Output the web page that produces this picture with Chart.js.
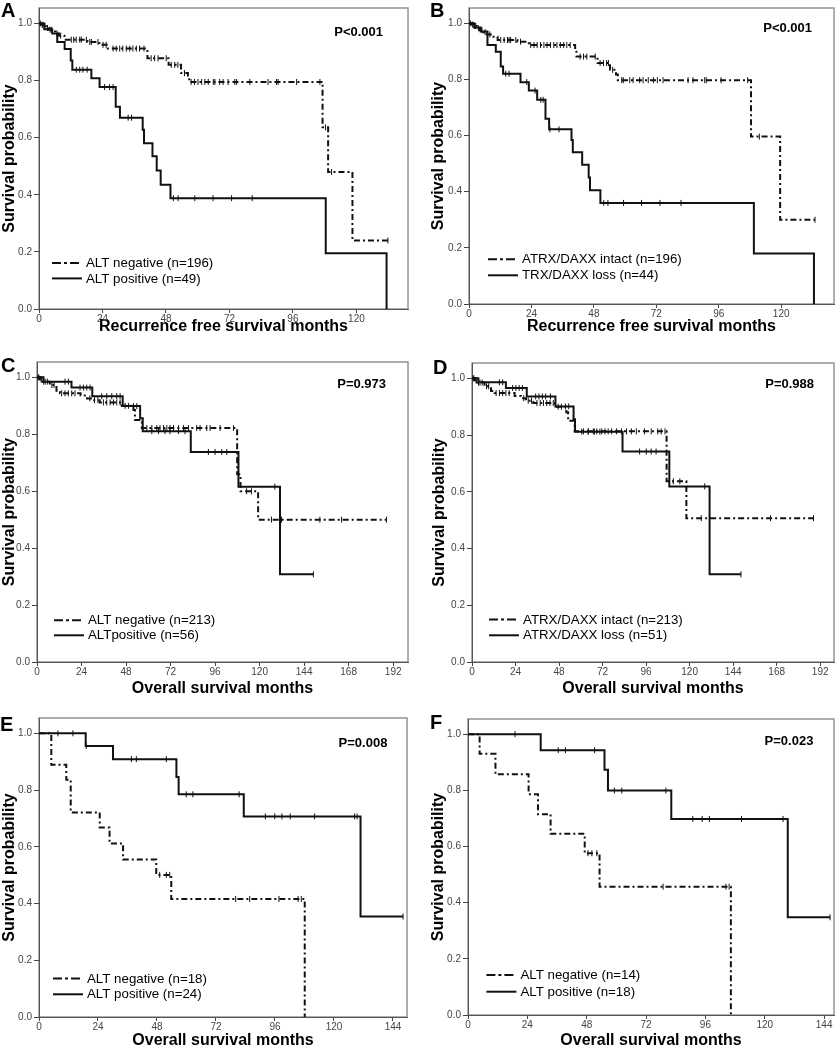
<!DOCTYPE html>
<html>
<head>
<meta charset="utf-8">
<title>Kaplan-Meier curves</title>
<script src="https://cdn.jsdelivr.net/npm/chart.js@4.4.0/dist/chart.umd.min.js"></script>
<style>
  body { margin: 0; background: #fff; }
  #wrap { position: relative; width: 839px; height: 1050px; overflow: hidden; }
  canvas { position: absolute; }
  .tag { position: absolute; z-index: 2; font: bold 20px Arial, "Liberation Sans", sans-serif; line-height: 1; color: #000; }
</style>
</head>
<body>
<div id="wrap">
  <canvas id="chartA" width="420" height="336" style="left:0;top:0"></canvas>
  <canvas id="chartB" width="419" height="336" style="left:420px;top:0"></canvas>
  <canvas id="chartC" width="420" height="362" style="left:0;top:336px"></canvas>
  <canvas id="chartD" width="419" height="362" style="left:420px;top:336px"></canvas>
  <canvas id="chartE" width="420" height="352" style="left:0;top:698px"></canvas>
  <canvas id="chartF" width="419" height="352" style="left:420px;top:698px"></canvas>
  <div class="tag" style="left:1px;top:0">A</div>
  <div class="tag" style="left:430px;top:0">B</div>
  <div class="tag" style="left:1px;top:355px">C</div>
  <div class="tag" style="left:433px;top:357px">D</div>
  <div class="tag" style="left:0;top:714px">E</div>
  <div class="tag" style="left:430px;top:712px">F</div>
</div>
<script>
// ---- data (months, survival probability) ----
// each curve: event times (T), survival after each event (S), censor times (C)

// A: recurrence free survival, ALT status
const aNegT = [0.8, 1.8, 2.8, 3.8, 5.2, 6.2, 7.6, 9.6, 18.3, 22.8, 26.0, 41.0, 49.0, 53.7, 56.3, 56.8, 107.2, 109.3, 118.5];
const aNegS = [0.995, 0.99, 0.984, 0.978, 0.972, 0.965, 0.957, 0.943, 0.935, 0.925, 0.912, 0.878, 0.855, 0.826, 0.81, 0.795, 0.636, 0.48, 0.24];
const aNegC = [0.5, 1.2, 1.5, 2.2, 3.2, 4.2, 4.8, 6.8, 8.2, 12.2, 13.1, 14.1, 15.4, 16.0, 17.9, 19.2, 19.8, 22.3, 24.2, 25.4, 28.0, 29.2, 30.5, 31.7, 33.0, 34.3, 35.5, 36.8, 38.0, 39.7, 42.4, 43.7, 45.0, 48.1, 50.0, 51.3, 52.5, 55.0, 57.5, 58.8, 60.1, 61.5, 62.7, 64.0, 65.9, 66.5, 68.3, 69.6, 71.5, 74.0, 74.7, 79.7, 86.6, 89.8, 90.4, 97.4, 106.2, 108.3, 110.6, 131.9];
const aPosT = [2.0, 5.0, 6.9, 9.7, 12.0, 12.6, 19.8, 22.9, 29.0, 30.6, 39.2, 39.7, 42.9, 44.5, 46.0, 49.7, 108.4, 131.4];
const aPosS = [0.98, 0.965, 0.935, 0.91, 0.87, 0.838, 0.808, 0.777, 0.708, 0.67, 0.628, 0.58, 0.535, 0.485, 0.435, 0.388, 0.195, 0];
const aPosC = [14.1, 15.4, 16.6, 18.2, 24.8, 26.7, 28.0, 33.7, 35.0, 50.8, 52.6, 58.9, 65.8, 72.8, 80.6];

// B: recurrence free survival, ATRX/DAXX status
const bNegT = [0.8, 1.8, 3.0, 4.2, 5.5, 7.0, 9.0, 11.0, 18.6, 23.0, 40.8, 41.3, 49.4, 54.2, 56.5, 57.2, 108.4, 119.6];
const bNegS = [0.995, 0.99, 0.982, 0.975, 0.968, 0.96, 0.952, 0.94, 0.934, 0.922, 0.905, 0.881, 0.858, 0.834, 0.817, 0.797, 0.596, 0.30];
const bNegC = [0.5, 1.3, 2.2, 2.6, 3.6, 5.0, 6.2, 8.0, 12.2, 13.5, 14.8, 15.4, 16.0, 18.0, 19.8, 23.7, 25.0, 26.2, 27.5, 28.8, 30.0, 31.3, 32.6, 33.8, 35.1, 36.4, 37.6, 38.9, 42.7, 44.0, 45.3, 48.5, 50.4, 51.7, 52.9, 53.6, 55.2, 58.7, 59.3, 61.8, 63.1, 65.6, 66.9, 68.9, 70.9, 72.4, 74.6, 84.2, 86.1, 90.6, 91.2, 96.9, 107.1, 111.6, 133.0];
const bPosT = [2.0, 4.5, 7.1, 10.3, 12.2, 13.1, 19.8, 23.0, 26.2, 29.4, 30.8, 39.4, 39.9, 43.5, 46.0, 46.5, 50.5, 109.5, 132.6];
const bPosS = [0.985, 0.97, 0.922, 0.898, 0.846, 0.82, 0.79, 0.76, 0.727, 0.66, 0.622, 0.584, 0.54, 0.496, 0.45, 0.405, 0.36, 0.18, 0];
const bPosC = [14.1, 15.4, 22.2, 25.4, 27.6, 28.5, 31.1, 34.6, 51.8, 53.4, 59.4, 66.3, 73.4, 81.5];

// C: overall survival, ALT status
const cNegT = [1.5, 3.0, 6.9, 10.5, 12.4, 23.5, 27.0, 29.8, 33.8, 45.7, 52.0, 52.8, 56.5, 107.9, 109.7, 119.2];
const cNegS = [0.993, 0.985, 0.973, 0.953, 0.944, 0.936, 0.926, 0.92, 0.912, 0.90, 0.885, 0.85, 0.822, 0.66, 0.60, 0.50];
const cNegC = [0.6, 1.0, 2.2, 2.6, 3.6, 4.4, 5.6, 8.0, 9.2, 13.3, 15.1, 16.9, 18.7, 20.5, 28.5, 31.0, 32.8, 35.8, 37.6, 39.4, 41.2, 43.0, 44.8, 47.5, 49.3, 59.2, 61.9, 64.6, 66.3, 68.2, 70.0, 71.7, 73.6, 76.3, 79.0, 81.7, 86.1, 87.9, 91.5, 93.3, 98.7, 105.9, 113.0, 115.6, 126.4, 131.8, 152.5, 164.2, 188.4];
const cPosT = [3.5, 18.6, 29.8, 46.2, 55.6, 57.0, 82.9, 108.6, 131.0];
const cPosS = [0.985, 0.964, 0.934, 0.899, 0.856, 0.811, 0.738, 0.616, 0.308];
const cPosC = [15.1, 16.9, 23.2, 25.0, 26.8, 28.6, 34.9, 37.6, 40.3, 43.0, 44.8, 52.0, 53.8, 61.9, 65.5, 69.0, 71.7, 76.3, 79.8, 92.4, 96.0, 99.6, 102.3, 128.2, 149.0];

// D: overall survival, ATRX/DAXX status
const dNegT = [1.5, 3.0, 6.9, 10.5, 12.4, 23.5, 27.0, 29.8, 33.8, 45.7, 52.0, 53.0, 56.6, 107.3, 118.2];
const dNegS = [0.993, 0.985, 0.972, 0.955, 0.948, 0.938, 0.93, 0.921, 0.913, 0.90, 0.88, 0.85, 0.813, 0.637, 0.507];
const dNegC = [0.6, 1.0, 2.2, 2.6, 3.6, 4.4, 5.6, 8.0, 9.2, 13.3, 15.1, 16.9, 18.7, 20.5, 28.5, 31.0, 32.8, 35.8, 37.6, 39.4, 41.2, 43.0, 44.8, 47.5, 49.3, 61.5, 64.2, 66.9, 68.8, 71.5, 73.3, 75.1, 77.0, 79.7, 82.4, 85.2, 87.9, 90.6, 95.1, 98.8, 102.4, 104.3, 106.4, 111.0, 114.6, 126.4, 131.0, 164.6, 188.3];
const dPosT = [3.5, 18.7, 30.2, 46.0, 56.0, 56.8, 83.0, 108.8, 131.0];
const dPosS = [0.986, 0.966, 0.936, 0.901, 0.856, 0.812, 0.742, 0.619, 0.309];
const dPosC = [15.1, 16.9, 22.4, 24.2, 26.0, 27.8, 35.1, 36.9, 38.8, 40.6, 43.3, 51.5, 53.3, 60.5, 64.0, 67.5, 70.5, 92.4, 96.1, 98.8, 101.5, 128.3, 148.3];

// E: overall survival, ALT status (subgroup)
const eNegT = [5.0, 11.1, 12.9, 24.7, 28.7, 34.2, 47.7, 53.8, 108.1];
const eNegS = [0.889, 0.836, 0.721, 0.668, 0.612, 0.555, 0.501, 0.416, 0];
const eNegC = [49.1, 51.8, 53.2, 80.0, 85.7, 97.6, 105.4, 106.7];
const ePosT = [19.0, 30.1, 55.9, 56.8, 83.3, 130.8];
const ePosS = [0.955, 0.909, 0.846, 0.785, 0.707, 0.354];
const ePosC = [7.7, 13.8, 19.2, 37.6, 39.6, 51.8, 59.9, 62.6, 81.4, 92.1, 95.9, 98.8, 102.2, 112.1, 128.4, 129.4, 148.1];

// F: overall survival, ALT status (subgroup)
const fNegT = [4.7, 11.1, 24.5, 28.3, 33.4, 47.2, 53.2, 106.3];
const fNegS = [0.93, 0.857, 0.786, 0.715, 0.645, 0.576, 0.457, 0];
const fNegC = [48.5, 50.1, 52.1, 78.9, 104.3, 105.6];
const fPosT = [29.4, 55.2, 56.6, 82.2, 129.3];
const fPosS = [0.943, 0.873, 0.799, 0.698, 0.348];
const fPosC = [19.0, 36.5, 39.4, 51.2, 59.2, 62.2, 80.0, 90.9, 94.7, 97.6, 110.6, 127.4, 146.4];

// tick labels
const yTicks = [0, 0.2, 0.4, 0.6, 0.8, 1.0];
const xTicksRfs = [0, 24, 48, 72, 96, 120];
const xTicksOs = [0, 24, 48, 72, 96, 120, 144, 168, 192];
const xTicksSub = [0, 24, 48, 72, 96, 120, 144];

const FONT = "Arial, 'Liberation Sans', sans-serif";
Chart.defaults.font.family = FONT;

// survival value of a step curve at time t (used to put censor ticks on the line)
function survAt(T, S, t) {
  let s = 1;
  for (let i = 0; i < T.length; i++) {
    if (T[i] <= t) s = S[i];
  }
  return s;
}

// build one KM dataset: steps + censor marks as vertical point ticks
function curve(label, T, S, C, dashed) {
  const pts = [{ x: 0, y: 1, r: 0 }];
  T.forEach((t, i) => pts.push({ x: t, y: S[i], r: 0 }));
  C.forEach(t => pts.push({ x: t, y: survAt(T, S, t), r: 3 }));
  pts.sort((a, b) => a.x - b.x || a.r - b.r);
  return {
    label: label,
    data: pts,
    stepped: true,
    borderColor: "#111",
    borderWidth: 2,
    borderDash: dashed ? [6, 3, 2, 3] : [],
    fill: false,
    pointStyle: "line",
    pointRotation: 90,
    pointRadius: c => (c.raw ? c.raw.r : 0),
    pointBorderColor: "#111",
    pointBorderWidth: 1,
  };
}

// frame around plot area (light grey top/right)
const framePlugin = {
  id: "frame",
  beforeDraw(chart) {
    const { ctx, chartArea: a } = chart;
    ctx.save();
    ctx.strokeStyle = "#8a9898";
    ctx.lineWidth = 1.5;
    ctx.strokeRect(a.left, a.top, a.right - a.left, a.bottom - a.top);
    ctx.restore();
  },
};

// p-value and in-plot legend
const notePlugin = {
  id: "note",
  afterDraw(chart, args, o) {
    const { ctx, chartArea: a } = chart;
    ctx.save();
    ctx.fillStyle = "#000";
    ctx.font = "bold 13px " + FONT;
    ctx.textAlign = "right";
    ctx.textBaseline = "middle";
    ctx.fillText(o.pText, a.right + o.pX, a.top + o.pY);

    ctx.font = "13.3px " + FONT;
    ctx.textAlign = "left";
    chart.data.datasets.forEach((ds, i) => {
      const x = a.left + o.legX;
      const y = a.bottom + o.legY + i * o.legGap;
      ctx.beginPath();
      ctx.setLineDash(ds.borderDash.length ? [9, 3, 3, 3] : []);
      ctx.strokeStyle = "#111";
      ctx.lineWidth = 2;
      ctx.moveTo(x, y);
      ctx.lineTo(x + 30, y);
      ctx.stroke();
      ctx.setLineDash([]);
      ctx.fillText(ds.label, x + 34, y + 0.5);
    });
    ctx.restore();
  },
};

function makePanel(id, p) {
  const cv = document.getElementById(id);
  const W = cv.width, H = cv.height;
  const box = p.box; // plot area inside the canvas: [left, top, right, bottom]
  return new Chart(cv.getContext("2d"), {
    type: "line",
    data: {
      datasets: [
        curve(p.labels[0], p.negT, p.negS, p.negC, true),
        curve(p.labels[1], p.posT, p.posS, p.posC, false),
      ],
    },
    plugins: [framePlugin, notePlugin],
    options: {
      responsive: false,
      animation: false,
      events: [],
      layout: { padding: { left: 0, top: box[1], right: W - box[2], bottom: 0 } },
      plugins: {
        legend: { display: false },
        tooltip: { enabled: false },
        note: p.note,
      },
      scales: {
        x: {
          type: "linear",
          min: 0,
          max: p.xMax,
          afterBuildTicks: s => { s.ticks = p.xTicks.map(v => ({ value: v })); },
          afterFit: s => { s.height = H - box[3]; },
          ticks: { font: { size: 10 }, color: "#444", padding: 0, maxRotation: 0, autoSkip: false, callback: v => String(v) },
          grid: { drawOnChartArea: false, tickLength: 4, color: "#444" },
          border: { color: "#555", width: 1 },
          title: { display: true, text: p.xTitle, color: "#000", font: { size: 16, weight: "bold" }, padding: 0 },
        },
        y: {
          min: 0,
          max: 1.054,
          afterBuildTicks: s => { s.ticks = yTicks.map(v => ({ value: v })); },
          afterFit: s => { s.width = box[0]; },
          ticks: { font: { size: 10 }, color: "#444", padding: 2, callback: v => v.toFixed(1) },
          grid: { drawOnChartArea: false, tickLength: 5, color: "#444" },
          border: { color: "#555", width: 1 },
          title: { display: true, text: "Survival probability", color: "#000", font: { size: 16, weight: "bold" }, padding: { top: p.yTitlePad, bottom: 0 } },
        },
      },
    },
  });
}

makePanel("chartA", {
  negT: aNegT, negS: aNegS, negC: aNegC, posT: aPosT, posS: aPosS, posC: aPosC,
  labels: ["ALT negative (n=196)", "ALT positive (n=49)"],
  xTitle: "Recurrence free survival months", xTicks: xTicksRfs, xMax: 139.5,
  box: [39, 4, 408, 309], yTitlePad: 0,
  note: { pText: "P<0.001", pX: -25, pY: 24, legX: 13, legY: -46, legGap: 15.4 },
});

makePanel("chartB", {
  negT: bNegT, negS: bNegS, negC: bNegC, posT: bPosT, posS: bPosS, posC: bPosC,
  labels: ["ATRX/DAXX intact (n=196)", "TRX/DAXX loss (n=44)"],
  xTitle: "Recurrence free survival months", xTicks: xTicksRfs, xMax: 140.3,
  box: [49, 6, 417, 304], yTitlePad: 8.7,
  note: { pText: "P<0.001", pX: -22, pY: 20.3, legX: 19, legY: -44.7, legGap: 16 },
});

makePanel("chartC", {
  negT: cNegT, negS: cNegS, negC: cNegC, posT: cPosT, posS: cPosS, posC: cPosC,
  labels: ["ALT negative (n=213)", "ALTpositive (n=56)"],
  xTitle: "Overall survival months", xTicks: xTicksOs, xMax: 200,
  box: [37, 26, 408, 326], yTitlePad: 0,
  note: { pText: "P=0.973", pX: -22, pY: 22.7, legX: 17, legY: -41.7, legGap: 15 },
});

makePanel("chartD", {
  negT: dNegT, negS: dNegS, negC: dNegC, posT: dPosT, posS: dPosS, posC: dPosC,
  labels: ["ATRX/DAXX intact (n=213)", "ATRX/DAXX loss (n=51)"],
  xTitle: "Overall survival months", xTicks: xTicksOs, xMax: 199.6,
  box: [52, 27, 417, 326], yTitlePad: 9.7,
  note: { pText: "P=0.988", pX: -20, pY: 21.7, legX: 17, legY: -42.4, legGap: 15.7 },
});

makePanel("chartE", {
  negT: eNegT, negS: eNegS, negC: eNegC, posT: ePosT, posS: ePosS, posC: ePosC,
  labels: ["ALT negative (n=18)", "ALT positive (n=24)"],
  xTitle: "Overall survival months", xTicks: xTicksSub, xMax: 149.7,
  box: [39, 20, 407, 319], yTitlePad: 0,
  note: { pText: "P=0.008", pX: -19.6, pY: 25.7, legX: 14, legY: -38.4, legGap: 15.7 },
});

makePanel("chartF", {
  negT: fNegT, negS: fNegS, negC: fNegC, posT: fPosT, posS: fPosS, posC: fPosC,
  labels: ["ALT negative (n=14)", "ALT positive (n=18)"],
  xTitle: "Overall survival months", xTicks: xTicksSub, xMax: 148,
  box: [48, 21, 417, 317], yTitlePad: 8.7,
  note: { pText: "P=0.023", pX: -20.6, pY: 22, legX: 18.4, legY: -40, legGap: 16.7 },
});
</script>
</body>
</html>
